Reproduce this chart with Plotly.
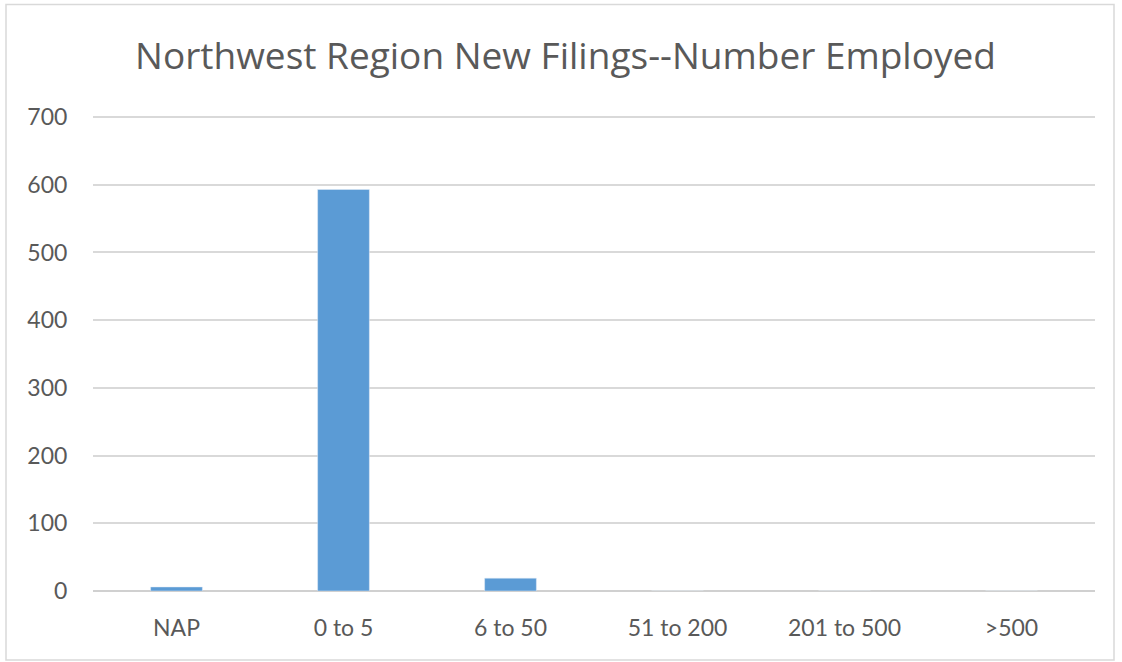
import plotly.graph_objects as go

categories = ["NAP", "0 to 5", "6 to 50", "51 to 200", "201 to 500", ">500"]
values = [6, 593, 19, 0, 0, 0]
y_ticks = [0, 100, 200, 300, 400, 500, 600, 700]

W, H = 1122, 662
L, R, T, B = 93, 27, 116, 71
pw, ph = W - L - R, H - T - B

def px_x(p):
    return (p - L) / pw

def px_y(p):
    return (H - B - p) / ph

fig = go.Figure(go.Bar(x=categories, y=values, marker_color="#5b9bd5", width=0.31))

fig.update_layout(
    width=W, height=H,
    margin=dict(l=L, r=R, t=T, b=B),
    plot_bgcolor="white", paper_bgcolor="white",
    font=dict(family="Lato", size=23, color="#595959"),
    title=dict(text="Northwest Region New Filings--Number Employed",
               x=0.504, xref="container", xanchor="center",
               y=1 - 56 / H, yref="container", yanchor="middle",
               font=dict(family="Open Sans", size=37, color="#595959")),
    xaxis=dict(showgrid=False, showline=False, zeroline=False,
               ticks="outside", ticklen=16, tickcolor="rgba(0,0,0,0)",
               tickfont=dict(size=23, color="#595959")),
    yaxis=dict(range=[0, 701.5], tickvals=y_ticks, showgrid=True,
               gridcolor="#d9d9d9", gridwidth=1.5, zeroline=True,
               zerolinecolor="#d0d0d0", zerolinewidth=2, showline=False,
               ticks="outside", ticklen=20, tickcolor="rgba(0,0,0,0)",
               tickfont=dict(size=23, color="#595959")),
    bargap=0.69,
    showlegend=False,
    shapes=[dict(type="rect", xref="paper", yref="paper",
                 x0=px_x(6), x1=px_x(1114), y0=px_y(660), y1=px_y(4.5),
                 line=dict(color="#d9d9d9", width=1.5), fillcolor="rgba(0,0,0,0)",
                 layer="below")],
)

fig.write_html("out.html", config={"displayModeBar": False},
               post_script="document.body.style.margin='0';")
